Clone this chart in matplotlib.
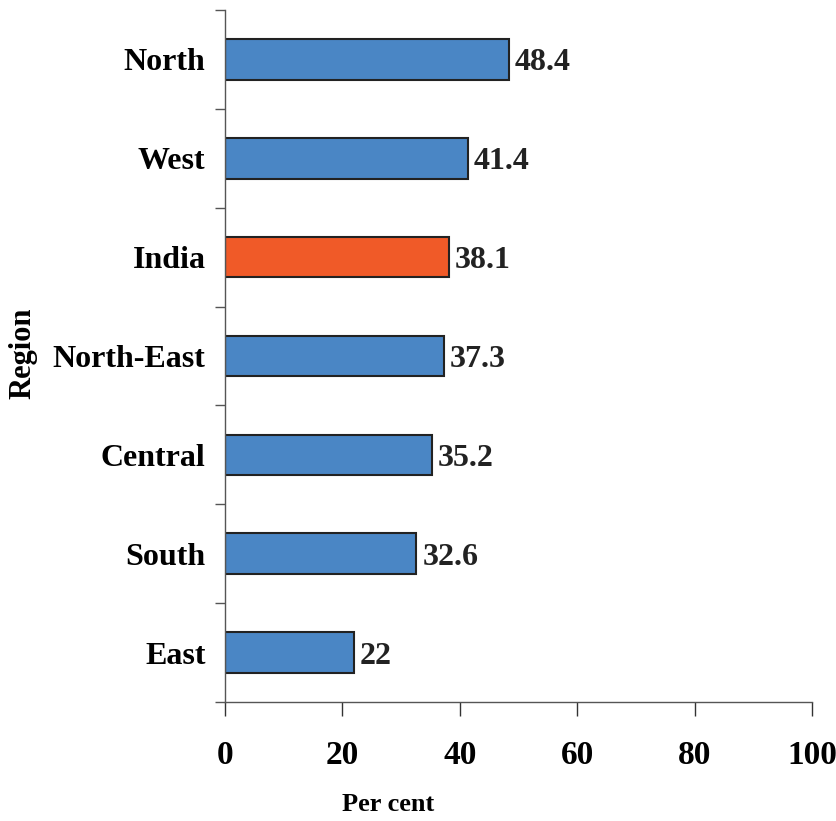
import numpy as np
import matplotlib.pyplot as plt
from matplotlib.ticker import MultipleLocator

plt.rcParams['font.family'] = ['Liberation Serif', 'DejaVu Serif']
plt.rcParams['font.weight'] = 'bold'

regions = ['North', 'West', 'India', 'North-East', 'Central', 'South', 'East']
values = [48.4, 41.4, 38.1, 37.3, 35.2, 32.6, 22]
labels = ['48.4', '41.4', '38.1', '37.3', '35.2', '32.6', '22']

blue = '#4A86C5'
orange = '#F05A28'
colours = [orange if r == 'India' else blue for r in regions]

fig = plt.figure(figsize=(8.37, 8.21), dpi=100)
ax = fig.add_axes([0.2688, 0.1449, 0.7013, 0.8429])

y = np.arange(len(regions))
ax.barh(y, values, height=0.41, color=colours, edgecolor='#222222', linewidth=1.5)

for yi, v, lab in zip(y, values, labels):
    ax.text(v + 1.0, yi, lab, va='center_baseline', ha='left', fontsize=23,
            fontweight='bold', color='#222222')

ax.set_xlim(0, 100)
ax.set_ylim(len(regions) - 0.5, -0.5)
ax.xaxis.set_major_locator(MultipleLocator(20))
ax.set_yticks(y)
ax.set_yticklabels(regions)
ax.set_yticks(np.arange(-0.5, len(regions)), minor=True)

ax.tick_params(axis='y', which='major', length=0, pad=14, labelsize=23)
ax.tick_params(axis='y', which='minor', length=7, width=1, color='#555555')
ax.tick_params(axis='x', which='major', length=10, width=1, color='#333333',
               pad=17, labelsize=24)

for s in ['top', 'right']:
    ax.spines[s].set_visible(False)
for s in ['left', 'bottom']:
    ax.spines[s].set_color('#555555')
    ax.spines[s].set_linewidth(1)

ax.set_xlabel('Per cent', fontsize=19, fontweight='bold')
ax.set_ylabel('Region', fontsize=22, fontweight='bold')
ax.xaxis.set_label_coords(0.278, -0.131)
ax.yaxis.set_label_coords(-0.32, 0.504)

fig.savefig('out.png', dpi=100)
